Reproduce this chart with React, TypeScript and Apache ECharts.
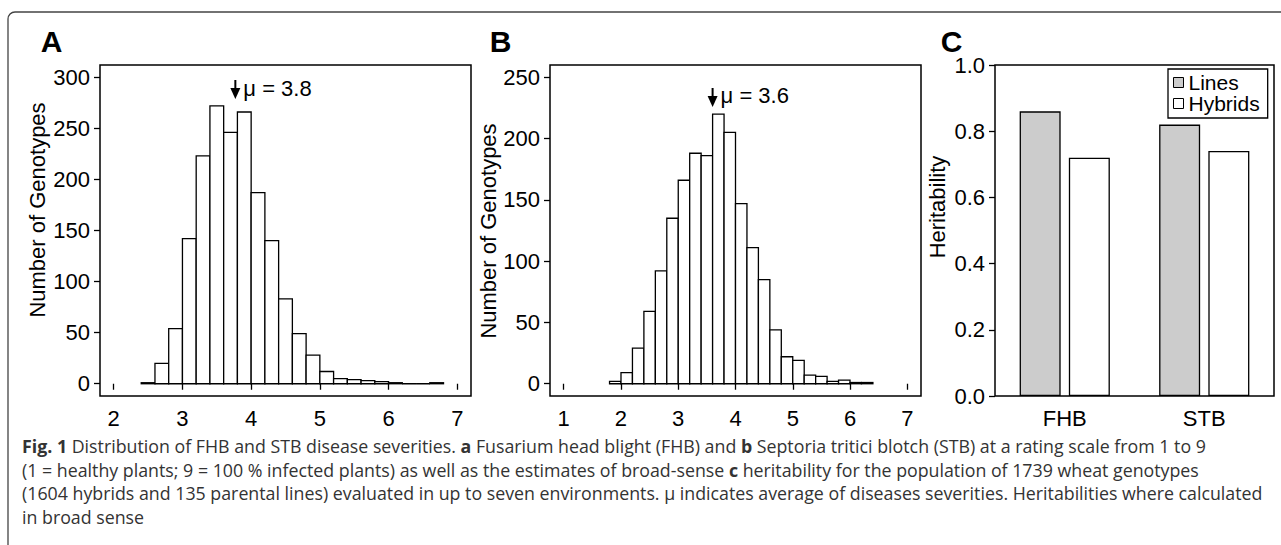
import React, { useEffect, useRef } from "react";
import * as echarts from "echarts";

// ---------- data ----------
const binWidth = 0.2;
const binStartsA = [2.4, 2.6, 2.8, 3.0, 3.2, 3.4, 3.6, 3.8, 4.0, 4.2, 4.4, 4.6, 4.8, 5.0, 5.2, 5.4, 5.6, 5.8, 6.0, 6.2, 6.4, 6.6];
const countsA = [1, 20, 54, 142, 223, 272, 246, 266, 187, 140, 83, 49, 28, 12, 5, 4, 3, 2, 1, 0, 0, 1];
const binStartsB = [1.8, 2.0, 2.2, 2.4, 2.6, 2.8, 3.0, 3.2, 3.4, 3.6, 3.8, 4.0, 4.2, 4.4, 4.6, 4.8, 5.0, 5.2, 5.4, 5.6, 5.8, 6.0, 6.2];
const countsB = [2, 9, 29, 59, 92, 135, 166, 188, 186, 220, 205, 147, 111, 85, 44, 22, 19, 7, 6, 2, 3, 1, 1];
const xTicksA = [2, 3, 4, 5, 6, 7];
const xTicksB = [1, 2, 3, 4, 5, 6, 7];
const yTicksA = [0, 50, 100, 150, 200, 250, 300];
const yTicksB = [0, 50, 100, 150, 200, 250];
const muA = 3.77;
const muB = 3.6;
const muLabelA = "μ = 3.8";
const muLabelB = "μ = 3.6";
const traits = ["FHB", "STB"];
const heritLines = [0.86, 0.82];
const heritHybrids = [0.72, 0.74];
const panelLabels = ["A", "B", "C"];
const captionLines = [
  "{b|Fig. 1} Distribution of FHB and STB disease severities. {b|a} Fusarium head blight (FHB) and {b|b} Septoria tritici blotch (STB) at a rating scale from 1 to 9",
  "(1 = healthy plants; 9 = 100 % infected plants) as well as the estimates of broad-sense {b|c} heritability for the population of 1739 wheat genotypes",
  "(1604 hybrids and 135 parental lines) evaluated in up to seven environments. μ indicates average of diseases severities. Heritabilities where calculated",
  "in broad sense",
];

const FONT = "'Liberation Sans', Arial, Helvetica, sans-serif";
const CAP_FONT = "'Open Sans', 'Noto Sans', sans-serif";
const FS = 22;
const CAP_FS = 17.8;

const histItem = (params: any, api: any) => {
  const x0 = api.value(0);
  const x1 = api.value(1);
  const c = api.value(2);
  const p0 = api.coord([x0, 0]);
  const p1 = api.coord([x1, c]);
  return {
    type: "polygon",
    shape: {
      points: [
        [p0[0], p0[1]],
        [p1[0], p0[1]],
        [p1[0], p1[1]],
        [p0[0], p1[1]],
      ],
    },
    style: { fill: "#ffffff", stroke: "#000000", lineWidth: 1.3 },
  };
};

const valueXAxis = (gridIndex: number, min: number, max: number, ticks: number[]) => ({
  gridIndex,
  type: "value",
  min,
  max,
  axisLine: { show: false },
  splitLine: { show: false },
  axisTick: { show: true, customValues: ticks, length: 6, lineStyle: { color: "#000", width: 1.3 } },
  axisLabel: { customValues: ticks, fontSize: FS, color: "#000", fontFamily: FONT, margin: 11 },
});

const valueYAxis = (gridIndex: number, min: number, max: number, ticks: number[]) => ({
  gridIndex,
  type: "value",
  min,
  max,
  axisLine: { show: false },
  splitLine: { show: false },
  axisTick: { show: true, customValues: ticks, length: 6, lineStyle: { color: "#000", width: 1.3 } },
  axisLabel: { customValues: ticks, fontSize: FS, color: "#000", fontFamily: FONT, margin: 10 },
});

const gridBox = (left: number, width: number) => ({
  left,
  top: 65,
  width,
  height: 331,
  show: true,
  borderColor: "#000",
  borderWidth: 1.5,
  backgroundColor: "transparent",
});

export default function App() {
  const ref = useRef<HTMLDivElement>(null);

  useEffect(() => {
    if (!ref.current) return;
    const chart = echarts.init(ref.current, undefined, { renderer: "svg" });

    const option: any = {
      animation: false,
      backgroundColor: "#ffffff",
      grid: [gridBox(100, 371), gridBox(550, 371), gridBox(995, 279)],
      xAxis: [
        valueXAxis(0, 1.8, 7.2, xTicksA),
        valueXAxis(1, 0.76, 7.24, xTicksB),
        {
          gridIndex: 2,
          type: "category",
          data: traits,
          axisLine: { show: false },
          axisTick: { show: false },
          splitLine: { show: false },
          axisLabel: { fontSize: FS, color: "#000", fontFamily: FONT, margin: 11 },
        },
      ],
      yAxis: [
        valueYAxis(0, -12, 312, yTicksA),
        valueYAxis(1, -10, 260, yTicksB),
        {
          gridIndex: 2,
          type: "value",
          min: 0,
          max: 1,
          interval: 0.2,
          axisLine: { show: false },
          splitLine: { show: false },
          axisTick: { show: true, length: 6, lineStyle: { color: "#000", width: 1.3 } },
          axisLabel: {
            fontSize: FS,
            color: "#000",
            fontFamily: FONT,
            margin: 10,
            formatter: (v: number) => v.toFixed(1),
          },
        },
      ],
      legend: {
        data: [
          { name: "Lines", itemStyle: { color: "#cccccc", borderColor: "#000", borderWidth: 1 } },
          { name: "Hybrids", itemStyle: { color: "#ffffff", borderColor: "#000", borderWidth: 1 } },
        ],
        orient: "vertical",
        left: 1168,
        top: 69,
        itemWidth: 10,
        itemHeight: 10,
        itemGap: 0,
        padding: [3, 8, 4, 5],
        borderColor: "#000",
        borderWidth: 1.3,
        backgroundColor: "#fff",
        icon: "rect",
        textStyle: { fontSize: 21, color: "#000", fontFamily: FONT, lineHeight: 20 },
      },
      series: [
        {
          type: "custom",
          xAxisIndex: 0,
          yAxisIndex: 0,
          renderItem: histItem,
          data: binStartsA.map((s, i) => [s, s + binWidth, countsA[i]]),
          encode: { x: [0, 1], y: 2 },
        },
        {
          type: "custom",
          xAxisIndex: 1,
          yAxisIndex: 1,
          renderItem: histItem,
          data: binStartsB.map((s, i) => [s, s + binWidth, countsB[i]]),
          encode: { x: [0, 1], y: 2 },
        },
        {
          name: "Lines",
          type: "bar",
          xAxisIndex: 2,
          yAxisIndex: 2,
          data: heritLines,
          barWidth: 41,
          barGap: "20%",
          itemStyle: { color: "#cccccc", borderColor: "#000", borderWidth: 1.3 },
        },
        {
          name: "Hybrids",
          type: "bar",
          xAxisIndex: 2,
          yAxisIndex: 2,
          data: heritHybrids,
          barWidth: 41,
          barGap: "20%",
          itemStyle: { color: "#ffffff", borderColor: "#000", borderWidth: 1.3 },
        },
      ],
    };
    chart.setOption(option);

    const pA = chart.convertToPixel({ gridIndex: 0 } as any, [muA, 0]) as number[];
    const pB = chart.convertToPixel({ gridIndex: 1 } as any, [muB, 0]) as number[];

    const arrow = (x: number, top: number, bottom: number) => [
      { type: "line", shape: { x1: x, y1: top, x2: x, y2: bottom - 6 }, style: { stroke: "#000", lineWidth: 2 } },
      {
        type: "polygon",
        shape: { points: [[x - 5, bottom - 11], [x + 5, bottom - 11], [x, bottom]] },
        style: { fill: "#000" },
      },
    ];

    const elements: any[] = [
      {
        type: "rect",
        shape: { x: 8, y: 12, width: 1300, height: 600, r: 7 },
        style: { fill: "none", stroke: "#444", lineWidth: 1.3 },
        silent: true,
      },
      ...arrow(pA[0], 80, 99),
      ...arrow(pB[0], 88, 107),
      {
        type: "text",
        x: pA[0] + 8,
        y: 88.5,
        style: { text: muLabelA, font: `${FS}px ${FONT}`, fill: "#000", verticalAlign: "middle", align: "left" },
      },
      {
        type: "text",
        x: pB[0] + 8,
        y: 95.5,
        style: { text: muLabelB, font: `${FS}px ${FONT}`, fill: "#000", verticalAlign: "middle", align: "left" },
      },
      {
        type: "text",
        x: 37,
        y: 210,
        rotation: Math.PI / 2,
        style: { text: "Number of Genotypes", font: `${FS}px ${FONT}`, fill: "#000", align: "center", verticalAlign: "middle" },
      },
      {
        type: "text",
        x: 488,
        y: 231,
        rotation: Math.PI / 2,
        style: { text: "Number of Genotypes", font: `${FS}px ${FONT}`, fill: "#000", align: "center", verticalAlign: "middle" },
      },
      {
        type: "text",
        x: 937,
        y: 207,
        rotation: Math.PI / 2,
        style: { text: "Heritability", font: `${FS}px ${FONT}`, fill: "#000", align: "center", verticalAlign: "middle" },
      },
    ];

    const labelX = [51.5, 500.5, 951.5];
    panelLabels.forEach((t, i) => {
      elements.push({
        type: "text",
        x: labelX[i],
        y: 41,
        style: { text: t, font: `bold 30px ${FONT}`, fill: "#000", align: "center", verticalAlign: "middle" },
      });
    });

    const capY = [446, 469.5, 493, 516.5];
    captionLines.forEach((line, i) => {
      elements.push({
        type: "text",
        x: 22,
        y: capY[i],
        style: {
          text: line,
          fontFamily: CAP_FONT,
          fontSize: CAP_FS,
          fill: "#333",
          align: "left",
          verticalAlign: "middle",
          rich: {
            b: { fontFamily: CAP_FONT, fontSize: CAP_FS, fontWeight: "bold", fill: "#333" },
          },
        },
      });
    });

    chart.setOption({ graphic: { elements } });

    return () => {
      chart.dispose();
    };
  }, []);

  return (
    <div
      ref={ref}
      style={{ position: "absolute", left: 0, top: 0, width: 1281, height: 545, background: "#fff" }}
    />
  );
}
